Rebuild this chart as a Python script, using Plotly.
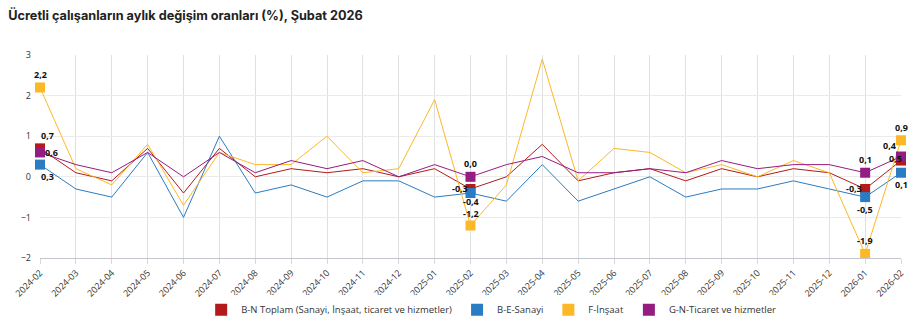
import plotly.graph_objects as go

# Monthly change rates of paid employees (%), Feb 2024 - Feb 2026
months = [
    "2024-02", "2024-03", "2024-04", "2024-05", "2024-06", "2024-07", "2024-08",
    "2024-09", "2024-10", "2024-11", "2024-12", "2025-01", "2025-02", "2025-03",
    "2025-04", "2025-05", "2025-06", "2025-07", "2025-08", "2025-09", "2025-10",
    "2025-11", "2025-12", "2026-01", "2026-02",
]

bn_toplam = [0.7, 0.1, -0.1, 0.7, -0.4, 0.7, 0.0, 0.2, 0.1, 0.2, 0.0, 0.2, -0.3,
             0.0, 0.8, -0.1, 0.1, 0.2, -0.1, 0.2, 0.0, 0.2, 0.1, -0.3, 0.4]
be_sanayi = [0.3, -0.3, -0.5, 0.6, -1.0, 1.0, -0.4, -0.2, -0.5, -0.1, -0.1, -0.5, -0.4,
             -0.6, 0.3, -0.6, -0.3, 0.0, -0.5, -0.3, -0.3, -0.1, -0.3, -0.5, 0.1]
f_insaat = [2.2, 0.2, -0.2, 0.8, -0.7, 0.6, 0.3, 0.3, 1.0, 0.1, 0.2, 1.9, -1.2,
            -0.2, 2.9, -0.1, 0.7, 0.6, 0.1, 0.3, 0.0, 0.4, 0.1, -1.9, 0.9]
gn_ticaret = [0.6, 0.3, 0.1, 0.6, 0.0, 0.6, 0.1, 0.4, 0.2, 0.4, 0.0, 0.3, 0.0,
              0.3, 0.5, 0.1, 0.1, 0.2, 0.1, 0.4, 0.2, 0.3, 0.3, 0.1, 0.5]

series_names = [
    "B-N Toplam (Sanayi, İnşaat, ticaret ve hizmetler)",
    "B-E-Sanayi",
    "F-İnşaat",
    "G-N-Ticaret ve hizmetler",
]
y_ticks = [-2, -1, 0, 1, 2, 3]

# Months whose points get a marker and a value label
marked = [0, 12, 23, 24]

colors = ["#B31B1B", "#2A7CC3", "#FDB827", "#951C80"]

# Pixel offsets (dx, dy) of each value label from its marker
label_shift = [
    [(7, 13), (-11, 0), (-11, 0), (-12, 15)],
    [(7, -12), (0, -8), (0, -12), (0, -12)],
    [(0, 13), (0, 12), (0, 13), (0, 13)],
    [(11, 0), (0, 13), (0, 13), (-6, -2)],
]

FONT = "Open Sans, Lato, sans-serif"


def fmt(v):
    return f"{v:.1f}".replace(".", ",")


fig = go.Figure()
all_series = [bn_toplam, be_sanayi, f_insaat, gn_ticaret]

for name, vals, col in zip(series_names, all_series, colors):
    fig.add_trace(go.Scatter(
        x=months, y=vals, mode="lines", name=name,
        line=dict(color=col, width=1), showlegend=False,
        legendgroup=name, cliponaxis=False,
    ))

for name, vals, col in zip(series_names, all_series, colors):
    fig.add_trace(go.Scatter(
        x=[months[i] for i in marked], y=[vals[i] for i in marked],
        mode="markers", name=name, legendgroup=name,
        marker=dict(symbol="square", size=10, color=col, line=dict(width=0)),
        cliponaxis=False,
    ))

annotations = []
for vals, shifts in zip(all_series, label_shift):
    for i, (dx, dy) in zip(marked, shifts):
        annotations.append(dict(
            x=months[i], y=vals[i], xref="x", yref="y",
            text=fmt(vals[i]), showarrow=False,
            xshift=dx, yshift=dy, borderpad=0,
            font=dict(family=FONT, size=9, color="#111", weight="bold"),
        ))

fig.update_layout(
    width=918, height=336,
    margin=dict(l=40, r=17, t=55, b=74),
    paper_bgcolor="white", plot_bgcolor="white",
    font=dict(family=FONT, size=9, color="#333"),
    title=dict(
        text="Ücretli çalışanların aylık değişim oranları (%), Şubat 2026",
        x=0.009, xanchor="left", y=0.955, yanchor="middle",
        font=dict(family="Inter, Open Sans, sans-serif", size=12.7,
                  color="#222", weight="bold"),
    ),
    legend=dict(
        orientation="h", x=0.524, xanchor="center", y=-0.255, yanchor="middle",
        font=dict(family=FONT, size=9.5, color="#333"),
        itemsizing="constant", itemwidth=30, tracegroupgap=0,
    ),
    annotations=annotations,
    showlegend=True,
)

fig.update_xaxes(
    type="category", range=[0, len(months) - 1],
    tickangle=-45, tickfont=dict(family=FONT, size=9, color="#333"),
    showgrid=True, gridcolor="#e0e0e0", gridwidth=1,
    showline=True, linecolor="#c4c4cc", linewidth=1,
    ticks="outside", ticklen=5, tickcolor="#d8d8d8",
    zeroline=False, fixedrange=True,
)
fig.update_yaxes(
    range=[-2, 3], tickvals=y_ticks,
    tickfont=dict(family=FONT, size=9, color="#333"),
    showgrid=True, gridcolor="#ebebeb", gridwidth=1,
    zeroline=False, showline=False, ticks="", ticklabelstandoff=8,
    fixedrange=True,
)

fig.write_html("out.html")
